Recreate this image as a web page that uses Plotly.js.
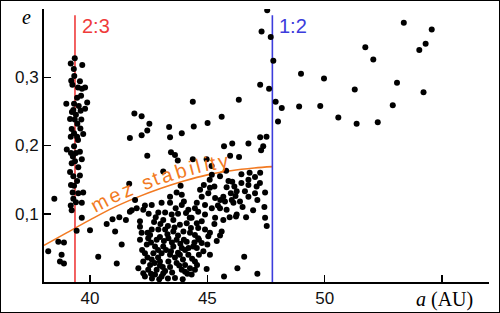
<!DOCTYPE html>
<html><head><meta charset="utf-8">
<script src="https://cdn.plot.ly/plotly-3.0.1.min.js"></script>
<style>
html,body{margin:0;padding:0;background:#fff;}
#chart{width:498px;height:311px;border:1px solid #000;}
</style></head>
<body><div id="chart"></div>
<script>
// ---- data (a in AU, e) ----
const res23A=[39.35,39.18,39.67,39.31,39.33,39.20,39.57,39.25,39.49,39.79,39.66,39.62,38.99,39.32,39.52,39.88,39.79,39.60,39.29,39.40,39.15,39.35,39.63,39.46,39.22,39.59,39.32,39.71,39.18,39.45,39.32,39.01,39.19,39.40,39.27,39.65,39.57,39.36,39.22,39.50,39.29,39.57,39.32,39.19,39.26,39.71,39.50,39.29,39.40,39.65,39.18,39.22,39.65,39.43,38.48,39.45,39.23,39.49,39.15,39.45];
const res23E=[0.328,0.320,0.318,0.312,0.302,0.295,0.294,0.289,0.285,0.285,0.283,0.273,0.261,0.261,0.258,0.263,0.254,0.251,0.252,0.245,0.239,0.238,0.238,0.232,0.224,0.225,0.218,0.217,0.213,0.213,0.199,0.194,0.189,0.189,0.184,0.180,0.191,0.177,0.174,0.168,0.155,0.156,0.141,0.142,0.131,0.131,0.130,0.122,0.117,0.116,0.112,0.105,0.094,0.075,0.122,0.270,0.249,0.208,0.161,0.148];
const innerA=[38.22,38.65,38.89,38.79,38.72,38.89];
const innerE=[0.045,0.059,0.058,0.040,0.030,0.027];
const classicalA=[40.00,40.35,41.14,40.71,40.96,41.25,41.07,41.35,41.53,41.67,41.70,42.13,42.13,42.27,42.34,42.63,42.91,43.05,43.41,43.69,43.91,41.92,41.78,41.99,43.20,43.48,43.41,43.91,44.19,44.47,43.12,43.55,43.83,44.12,44.33,44.55,42.63,42.91,43.20,43.55,43.98,44.26,44.47,42.48,42.84,43.34,43.69,44.12,42.42,42.77,43.12,43.55,43.91,44.40,42.34,42.70,43.05,43.41,43.83,44.19,42.27,42.63,42.98,43.34,43.69,44.05,44.47,42.06,42.48,42.84,43.20,43.91,44.26,42.34,42.77,43.05,43.62,44.33,42.56,42.98,43.49,43.75,44.05,43.24,42.90,43.62,43.96,42.56,43.41,44.05,42.98,43.32,43.75,44.09,42.73,44.64,44.30,42.13,42.22,43.32,42.64,44.64,44.56,45.19,45.54,46.75,47.03,46.06,46.15,46.75,47.24,44.69,45.11,45.82,46.25,46.60,47.03,47.46,44.76,45.04,45.33,45.68,46.04,46.39,46.75,44.55,44.90,45.19,45.54,45.82,46.11,47.43,44.61,44.90,45.33,45.68,46.25,47.46,47.53,44.76,44.61,44.90,45.11,45.61,45.54,44.61,44.76,45.04,44.55,44.83,45.11,46.57,44.97,46.28,45.71,47.13,44.47,46.22,47.13,42.27,43.12,
  42.45,42.80,43.00,43.30,43.60,43.85,44.00,44.20,43.15,42.60,42.90,43.45,43.75,44.35,42.45,42.75,43.10,43.50,43.80,44.15,42.60,42.95,43.95,44.45,44.25,44.00,43.65,42.50,42.20,45.30,45.90,46.45,45.55,46.00,46.50,45.95,45.30,45.00,45.40,46.80,47.10,45.80,
  45.75,46.45,46.95,46.65,45.45,47.25,46.20,45.10,44.85];
const classicalE=[0.076,0.037,0.027,0.085,0.092,0.095,0.074,0.055,0.091,0.144,0.103,0.089,0.081,0.106,0.112,0.113,0.102,0.116,0.125,0.131,0.128,0.120,0.105,0.108,0.102,0.099,0.116,0.113,0.106,0.108,0.091,0.091,0.084,0.086,0.094,0.086,0.077,0.077,0.077,0.074,0.074,0.072,0.069,0.064,0.062,0.064,0.062,0.059,0.055,0.052,0.052,0.052,0.050,0.052,0.042,0.042,0.042,0.040,0.040,0.040,0.030,0.033,0.030,0.030,0.028,0.025,0.030,0.020,0.018,0.018,0.016,0.018,0.020,0.008,0.011,0.008,0.006,0.011,0.069,0.066,0.058,0.068,0.047,0.047,0.036,0.036,0.033,0.025,0.022,0.015,0.024,0.082,0.100,0.101,0.088,0.062,0.079,0.062,0.047,0.005,0.005,0.040,0.025,0.157,0.155,0.150,0.154,0.147,0.140,0.142,0.145,0.135,0.138,0.139,0.133,0.133,0.130,0.131,0.125,0.130,0.123,0.125,0.120,0.118,0.125,0.116,0.113,0.108,0.108,0.106,0.116,0.110,0.103,0.099,0.094,0.091,0.099,0.094,0.082,0.089,0.079,0.077,0.072,0.074,0.068,0.064,0.057,0.067,0.050,0.045,0.040,0.037,0.019,0.020,0.008,0.012,0.018,0.096,0.120,0.013,0.013,
  0.072,0.095,0.085,0.070,0.080,0.056,0.062,0.050,0.060,0.058,0.047,0.045,0.043,0.034,0.036,0.028,0.022,0.014,0.024,0.012,0.012,0.004,0.004,0.058,0.094,0.118,0.108,0.100,0.072,0.140,0.148,0.145,0.120,0.130,0.110,0.095,0.085,0.055,0.060,0.160,0.140,0.163,
  0.118,0.158,0.105,0.095,0.112,0.160,0.126,0.150,0.142];
const excitedA=[41.70,41.89,42.20,42.53,42.44,42.20,42.44,43.37,43.41,43.91,44.38,44.42,43.45,43.62,44.38,45.01,45.61,46.34,45.71,46.06,46.75,45.97,46.35,44.97,43.74,45.18,43.12,43.86,47.25,47.52,47.38,47.29];
const excitedE=[0.211,0.247,0.243,0.232,0.222,0.215,0.185,0.227,0.212,0.218,0.264,0.228,0.190,0.186,0.180,0.233,0.242,0.267,0.199,0.203,0.203,0.185,0.183,0.180,0.178,0.170,0.162,0.141,0.212,0.213,0.199,0.193];
const outerA=[47.55,47.31,47.70,47.81,48.99,49.97,47.25,47.63,47.91,48.17,48.91,49.81,48.01,50.58,51.36,52.26,51.28,51.73,52.07,53.37,54.56,54.30,54.03,53.08,52.90,54.21];
const outerE=[0.398,0.367,0.359,0.324,0.305,0.298,0.289,0.283,0.264,0.255,0.257,0.258,0.235,0.241,0.232,0.234,0.282,0.344,0.326,0.380,0.370,0.349,0.340,0.292,0.259,0.278];
// stability limit curve
const limitA=[38.04,39,40,41,42,43,44,45,46,47,47.77];
const limitE=[0.0536,0.072,0.091,0.109,0.124,0.137,0.148,0.157,0.163,0.167,0.169];
// resonances
const res23=39.36, res12=47.77, resTop=0.391;
const xTickVals=[40,45,50,55], xTickText=['40','45','50',''];
const yTickVals=[0.1,0.2,0.3], yTickText=['0,1','0,2','0,3'];
const limitLabel='mez stability';

// ---- layout constants ----
const X0=38.04,X1=57.0,Y0=0,Y1=0.4;
const ML=43,MR=10,MT=8,MB=30,W=498,H=311;
const PW=W-ML-MR, PH=H-MT-MB;
const orange='#f27a22', red='#ef3b3b', blue='#3c3cdc';
const sans='"Liberation Sans", Arial, sans-serif';
const serif='"Liberation Serif", "Times New Roman", serif';

const allA=[].concat(res23A,innerA,classicalA,excitedA,outerA);
const allE=[].concat(res23E,innerE,classicalE,excitedE,outerE);

const traces=[
 {x:limitA,y:limitE,mode:'lines',line:{color:orange,width:1.6,shape:'spline'},hoverinfo:'skip'},
 {x:[res23,res23],y:[0,resTop],mode:'lines',line:{color:red,width:1.6},hoverinfo:'skip'},
 {x:[res12,res12],y:[0,resTop],mode:'lines',line:{color:blue,width:1.6},hoverinfo:'skip'},
 {x:allA,y:allE,mode:'markers',marker:{color:'#000',size:6},hoverinfo:'skip'}
];

// letters of the curve label laid along the curve
function toPx(a,e){return [(a-X0)/(X1-X0)*PW,(1-(e-Y0)/(Y1-Y0))*PH];}
function toData(px,py){return [X0+px/PW*(X1-X0), Y1-py/PH*(Y1-Y0)];}
const poly=limitA.map((a,i)=>toPx(a,limitE[i]));
const cum=[0];
for(let i=1;i<poly.length;i++){cum.push(cum[i-1]+Math.hypot(poly[i][0]-poly[i-1][0],poly[i][1]-poly[i-1][1]));}
function at(s){
  let i=1; while(i<poly.length-1 && cum[i]<s) i++;
  const t=(s-cum[i-1])/(cum[i]-cum[i-1]);
  const p=[poly[i-1][0]+t*(poly[i][0]-poly[i-1][0]), poly[i-1][1]+t*(poly[i][1]-poly[i-1][1])];
  const ang=Math.atan2(poly[i][1]-poly[i-1][1],poly[i][0]-poly[i-1][0]);
  return {p,ang};
}
function sFromX(px){
  for(let i=1;i<poly.length;i++){ if(poly[i][0]>=px){const t=(px-poly[i-1][0])/(poly[i][0]-poly[i-1][0]);return cum[i-1]+t*(cum[i]-cum[i-1]);} }
  return cum[cum.length-1];
}
const FS=20, SPACING=2.6, OFF=11;
const ctx=document.createElement('canvas').getContext('2d');
ctx.font=FS+'px "Liberation Sans"';
let cursor=sFromX(97-1-ML);
const annotations=[];
for(const ch of limitLabel){
  const w=ctx.measureText(ch).width;
  if(ch!==' '){
    const {p,ang}=at(cursor+w/2);
    const nx=Math.sin(ang), ny=-Math.cos(ang);
    const d=toData(p[0]+OFF*nx,p[1]+OFF*ny);
    annotations.push({x:d[0],y:d[1],xref:'x',yref:'y',text:ch,showarrow:false,xanchor:'center',yanchor:'middle',
      textangle:ang*180/Math.PI,font:{family:sans,size:FS,color:orange}});
  }
  cursor+=w+SPACING;
}
annotations.push(
 {x:res23,y:resTop,xref:'x',yref:'y',text:'2:3',showarrow:false,xanchor:'left',yanchor:'top',xshift:5,yshift:2,font:{family:sans,size:20,color:red}},
 {x:res12,y:resTop,xref:'x',yref:'y',text:'1:2',showarrow:false,xanchor:'left',yanchor:'top',xshift:5,yshift:2,font:{family:sans,size:20,color:blue}},
 {x:-0.04,y:0.97,xref:'paper',yref:'paper',text:'<i>e</i>',showarrow:false,xanchor:'center',yanchor:'middle',font:{family:serif,size:20,color:'#000'}},
 {x:55.1,y:0,xref:'x',yref:'paper',text:'<i>a</i> (AU)',showarrow:false,xanchor:'center',yanchor:'top',yshift:-4,font:{family:serif,size:20,color:'#000'}}
);

const layout={
 width:W,height:H,margin:{l:ML,r:MR,t:MT,b:MB,pad:0},
 paper_bgcolor:'#fff',plot_bgcolor:'#fff',showlegend:false,
 xaxis:{range:[X0,X1],showgrid:false,zeroline:false,showline:true,linecolor:'#000',linewidth:2,
   ticks:'inside',ticklen:7,tickwidth:1.5,tickcolor:'#000',tickvals:xTickVals,ticktext:xTickText,
   tickfont:{family:sans,size:17,color:'#111'},fixedrange:true},
 yaxis:{range:[Y0,Y1],showgrid:false,zeroline:false,showline:true,linecolor:'#000',linewidth:2,
   ticks:'inside',ticklen:7,tickwidth:1.5,tickcolor:'#000',tickvals:yTickVals,ticktext:yTickText,
   tickfont:{family:sans,size:17,color:'#111'},fixedrange:true},
 annotations
};
Plotly.newPlot('chart',traces,layout,{staticPlot:true,displayModeBar:false});
</script></body></html>
